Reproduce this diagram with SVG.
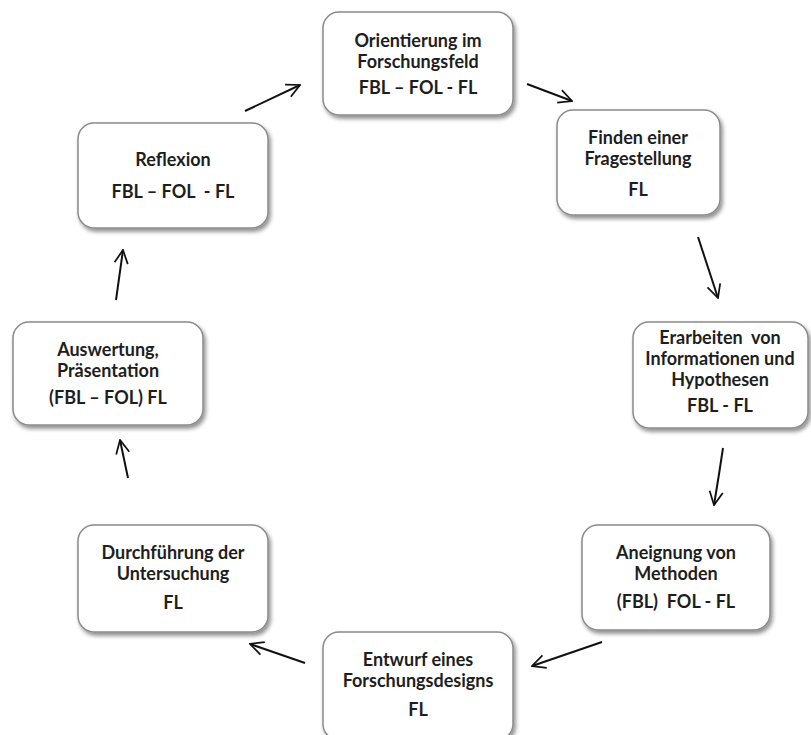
<svg xmlns="http://www.w3.org/2000/svg" width="811" height="735" viewBox="0 0 811 735">
<style>
.box{fill:#fff;stroke:#8a8a8a;stroke-width:1.5;filter:url(#sh)}
.t{font-family:Lato,"Liberation Sans",sans-serif;font-weight:bold;font-size:18px;fill:#1e1e1e;text-anchor:middle}
.a{fill:none;stroke:#111;stroke-width:2;marker-end:url(#ah)}
</style>
<defs>
<filter id="sh" x="-10%" y="-10%" width="125%" height="130%">
<feGaussianBlur in="SourceAlpha" stdDeviation="2"/>
<feOffset dx="2" dy="3" result="b"/>
<feComponentTransfer><feFuncA type="linear" slope="0.45"/></feComponentTransfer>
<feMerge><feMergeNode/><feMergeNode in="SourceGraphic"/></feMerge>
</filter>
<marker id="ah" viewBox="0 0 12 12" refX="11" refY="6" markerWidth="16" markerHeight="16" markerUnits="userSpaceOnUse" orient="auto">
<path d="M1,1 L11,6 L1,11" fill="none" stroke="#111" stroke-width="1.3"/>
</marker>
</defs>
<rect width="811" height="735" fill="#fff"/>
<g id="connectors">
<path class="a" d="M245,111 L300,85"/>
<path class="a" d="M527,84 L572,101"/>
<path class="a" d="M698,237 L718,298"/>
<path class="a" d="M723,448 Q719,475 714,505"/>
<path class="a" d="M602,642 L532,666"/>
<path class="a" d="M305,663 L250,644"/>
<path class="a" d="M128,478 L120,440"/>
<path class="a" d="M116,300 L123,250"/>
</g>
<g id="n1"><rect class="box" x="323" y="12" width="190" height="103" rx="16"/>
<text class="t" x="418" y="47">Orientierung im</text><text class="t" x="418" y="68">Forschungsfeld</text><text class="t" x="418" y="94">FBL – FOL - FL</text></g>
<g id="n2"><rect class="box" x="557" y="110" width="163" height="105" rx="16"/>
<text class="t" x="638" y="144">Finden einer</text><text class="t" x="638" y="165">Fragestellung</text><text class="t" x="638" y="196">FL</text></g>
<g id="n3"><rect class="box" x="633" y="322" width="175" height="106" rx="16"/>
<text class="t" x="720" y="344" xml:space="preserve">Erarbeiten  von</text><text class="t" x="720" y="365">Informationen und</text><text class="t" x="720" y="386">Hypothesen</text><text class="t" x="720" y="412">FBL - FL</text></g>
<g id="n4"><rect class="box" x="582" y="525" width="188" height="105" rx="16"/>
<text class="t" x="676" y="559">Aneignung von</text><text class="t" x="676" y="580">Methoden</text><text class="t" x="676" y="608" xml:space="preserve">(FBL)  FOL - FL</text></g>
<g id="n5"><rect class="box" x="323" y="632" width="190" height="108" rx="16"/>
<text class="t" x="418" y="666">Entwurf eines</text><text class="t" x="418" y="687">Forschungsdesigns</text><text class="t" x="418" y="716">FL</text></g>
<g id="n6"><rect class="box" x="78" y="525" width="190" height="107" rx="16"/>
<text class="t" x="173" y="559">Durchführung der</text><text class="t" x="173" y="580">Untersuchung</text><text class="t" x="173" y="609">FL</text></g>
<g id="n7"><rect class="box" x="13" y="322" width="190" height="103" rx="16"/>
<text class="t" x="108" y="356">Auswertung,</text><text class="t" x="108" y="377">Präsentation</text><text class="t" x="108" y="404">(FBL – FOL) FL</text></g>
<g id="n8"><rect class="box" x="78" y="123" width="190" height="105" rx="16"/>
<text class="t" x="173" y="166">Reflexion</text><text class="t" x="173" y="198" xml:space="preserve">FBL – FOL  - FL</text></g>
</svg>
